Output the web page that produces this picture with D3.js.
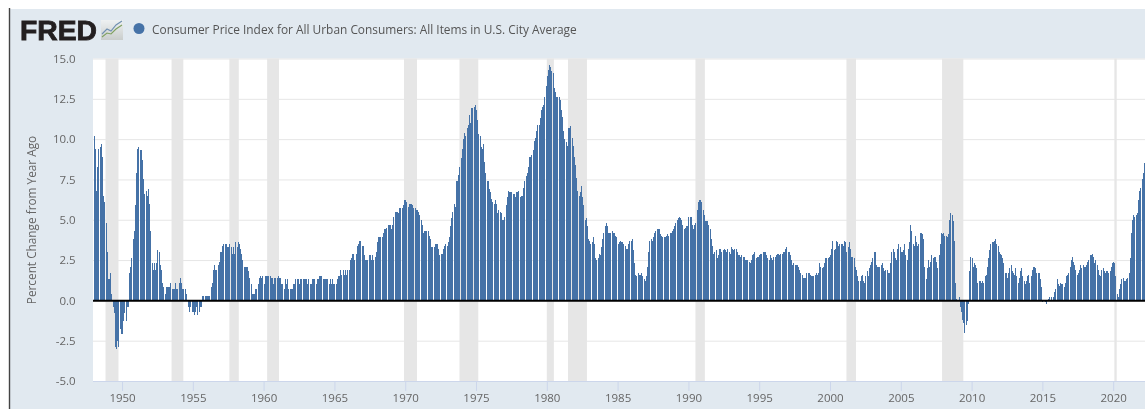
<!DOCTYPE html>
<html>
<head>
    <meta charset="utf-8">
    <title>FRED CPI</title>
    <script src="https://d3js.org/d3.v7.min.js"></script>
    <style>
        html, body { margin: 0; padding: 0; background: #fff; overflow: hidden; }
        svg { display: block; filter: blur(0.35px); }
        text { font-family: "Open Sans", sans-serif; }
        .tick-label text { font-size: 11.5px; fill: #666; }
        .chart-title { font-size: 11.9px; fill: #555; }
        .axis-label { font-size: 11.8px; fill: #666; }
        .logo { font-family: "Liberation Sans", Arial, sans-serif; font-size: 27px; font-weight: bold; fill: #231f20; stroke: #231f20; stroke-width: 0.8px; }
    </style>
</head>
<body>
    <svg id="chart"></svg>
    <script>
        const startYear = 1948;

        // percent change from year ago, one row per year, Jan to Dec
        const cpiChange = [
            10.2, 9.4, 6.8, 8.3, 9.4, 9.5, 9.7, 8.9, 6.5, 6.1, 4.8, 3.0,
            1.3, 1.3, 1.7, 0.4, -0.4, -0.8, -2.9, -3.0, -2.5, -2.9, -1.8, -2.1,
            -2.1, -1.3, -0.8, -1.3, -0.4, -0.4, 1.7, 2.1, 2.6, 3.8, 4.3, 5.9,
            7.9, 9.4, 9.5, 9.3, 9.3, 8.7, 7.5, 6.6, 6.8, 6.5, 6.9, 6.0,
            4.3, 2.3, 1.9, 2.3, 1.9, 2.3, 3.1, 3.0, 2.2, 1.9, 1.1, 0.8,
            0.4, 0.8, 0.8, 0.8, 0.8, 1.1, 0.7, 0.7, 0.7, 1.1, 0.7, 0.7,
            1.1, 1.4, 1.1, 0.7, 0.7, 0.7, 0.4, 0.0, -0.4, -0.7, -0.4, -0.7,
            -0.7, -0.9, -0.7, -0.4, -0.9, -0.7, -0.4, -0.4, 0.3, 0.3, 0.3, 0.3,
            0.3, 0.3, 0.3, 0.8, 1.1, 1.9, 2.2, 1.9, 1.9, 2.2, 2.4, 3.0,
            3.0, 3.4, 3.5, 3.5, 3.5, 3.3, 3.3, 3.5, 3.3, 2.9, 3.3, 2.9,
            3.6, 3.3, 3.6, 3.5, 3.2, 2.9, 2.5, 2.1, 2.1, 2.1, 2.1, 1.8,
            1.4, 1.0, 0.4, 0.4, 0.4, 0.7, 0.7, 1.0, 1.4, 1.5, 1.4, 1.5,
            1.0, 1.5, 1.5, 1.5, 1.5, 1.5, 1.4, 1.4, 1.0, 1.4, 1.4, 1.4,
            1.5, 1.4, 1.4, 1.0, 1.0, 0.7, 1.3, 1.0, 1.3, 0.7, 0.7, 0.7,
            0.7, 1.0, 1.0, 1.3, 1.3, 1.3, 1.0, 1.3, 1.3, 1.3, 1.3, 1.3,
            1.3, 1.0, 1.3, 1.0, 1.0, 1.3, 1.3, 1.3, 1.0, 1.3, 1.3, 1.5,
            1.5, 1.5, 1.3, 1.3, 1.3, 1.3, 1.3, 1.0, 1.3, 1.0, 1.3, 1.0,
            1.0, 1.0, 1.3, 1.5, 1.5, 1.9, 1.6, 1.9, 1.6, 1.9, 1.6, 1.9,
            1.9, 2.5, 2.6, 2.9, 2.9, 2.5, 2.9, 3.4, 3.5, 3.7, 3.7, 3.4,
            3.4, 2.8, 2.5, 2.5, 2.5, 2.8, 2.8, 2.5, 2.8, 2.5, 2.7, 3.0,
            3.6, 3.9, 3.9, 3.9, 3.9, 4.2, 4.4, 4.4, 4.5, 4.7, 4.7, 4.7,
            4.4, 4.7, 5.2, 5.5, 5.5, 5.5, 5.4, 5.7, 5.7, 5.7, 5.9, 6.2,
            6.2, 6.1, 5.8, 6.0, 6.0, 6.0, 5.9, 5.7, 5.7, 5.6, 5.6, 5.5,
            5.3, 5.0, 4.7, 4.2, 4.3, 4.3, 4.3, 4.3, 4.0, 3.8, 3.3, 3.3,
            3.3, 3.5, 3.5, 3.5, 3.2, 2.8, 2.9, 2.9, 3.2, 3.4, 3.5, 3.4,
            3.6, 3.9, 4.6, 5.1, 5.5, 6.0, 5.8, 7.4, 7.4, 7.8, 8.3, 8.8,
            9.4, 10.0, 10.4, 10.2, 10.7, 10.9, 11.5, 11.0, 11.9, 11.9, 12.0, 12.1,
            11.8, 11.2, 10.3, 10.2, 9.5, 9.4, 9.7, 8.6, 7.9, 7.4, 7.4, 6.9,
            6.7, 6.3, 6.1, 6.0, 6.2, 6.0, 5.4, 5.6, 5.5, 5.4, 5.0, 5.0,
            5.2, 5.9, 6.4, 6.8, 6.7, 6.7, 6.7, 6.6, 6.6, 6.4, 6.7, 6.7,
            6.8, 6.4, 6.5, 6.5, 7.0, 7.4, 7.7, 7.9, 8.3, 8.9, 8.9, 9.0,
            9.3, 9.9, 10.1, 10.5, 10.9, 10.9, 11.3, 11.8, 12.0, 12.1, 12.6, 13.3,
            13.9, 14.3, 14.6, 14.5, 14.2, 14.1, 13.2, 12.9, 12.6, 12.6, 12.6, 12.4,
            11.8, 11.4, 10.5, 10.0, 9.8, 9.6, 10.7, 10.7, 10.8, 10.1, 9.6, 8.9,
            8.4, 7.6, 6.8, 6.5, 6.7, 7.1, 6.4, 5.9, 5.0, 5.1, 4.6, 3.8,
            3.7, 3.5, 3.6, 3.9, 3.5, 2.6, 2.5, 2.6, 2.9, 2.8, 3.3, 3.8,
            4.2, 4.6, 4.8, 4.6, 4.2, 4.2, 4.2, 4.3, 4.2, 4.2, 4.0, 3.9,
            3.5, 3.6, 3.7, 3.6, 3.6, 3.5, 3.4, 3.2, 3.2, 3.5, 3.7, 3.7,
            3.8, 3.1, 2.3, 1.6, 1.5, 1.7, 1.6, 1.6, 1.7, 1.5, 1.3, 1.2,
            1.5, 2.1, 3.0, 3.7, 3.8, 3.7, 3.9, 4.2, 4.3, 4.4, 4.4, 4.4,
            4.1, 4.0, 3.9, 3.9, 3.9, 4.0, 4.1, 4.0, 4.2, 4.2, 4.3, 4.4,
            4.6, 4.8, 5.0, 5.1, 5.2, 5.1, 5.0, 4.7, 4.4, 4.5, 4.6, 4.6,
            5.2, 5.2, 5.2, 4.7, 4.4, 4.7, 4.8, 5.6, 6.1, 6.2, 6.2, 6.1,
            5.6, 5.3, 4.9, 4.9, 4.9, 4.7, 4.4, 3.8, 3.4, 2.9, 3.0, 3.1,
            2.6, 2.8, 3.2, 3.2, 3.0, 3.1, 3.2, 3.1, 3.0, 3.2, 3.0, 2.9,
            3.3, 3.2, 3.1, 3.2, 3.2, 3.0, 2.8, 2.8, 2.7, 2.8, 2.7, 2.7,
            2.5, 2.5, 2.5, 2.4, 2.3, 2.5, 2.8, 2.9, 3.0, 2.6, 2.7, 2.7,
            2.8, 2.9, 2.9, 3.0, 3.0, 3.0, 2.8, 2.6, 2.5, 2.8, 2.6, 2.5,
            2.7, 2.7, 2.8, 2.9, 2.9, 2.8, 2.9, 2.9, 3.0, 3.0, 3.2, 3.3,
            3.0, 3.0, 2.8, 2.5, 2.2, 2.3, 2.2, 2.2, 2.2, 2.1, 1.9, 1.7,
            1.6, 1.4, 1.4, 1.4, 1.7, 1.7, 1.7, 1.6, 1.5, 1.5, 1.5, 1.6,
            1.7, 1.6, 1.7, 2.3, 2.1, 2.0, 2.1, 2.3, 2.6, 2.6, 2.6, 2.7,
            2.8, 3.2, 3.7, 3.1, 3.2, 3.7, 3.6, 3.4, 3.5, 3.5, 3.5, 3.4,
            3.7, 3.6, 3.0, 3.3, 3.6, 3.2, 2.7, 2.7, 2.6, 2.1, 1.9, 1.5,
            1.2, 1.2, 1.5, 1.6, 1.2, 1.1, 1.5, 1.8, 1.5, 2.0, 2.2, 2.4,
            2.6, 3.0, 3.0, 2.2, 2.1, 2.1, 2.1, 2.2, 2.3, 2.0, 1.8, 1.9,
            1.9, 1.7, 1.7, 2.3, 3.0, 3.2, 3.0, 2.6, 2.5, 3.2, 3.5, 3.3,
            3.0, 3.0, 3.1, 3.5, 2.8, 2.5, 3.2, 3.6, 4.7, 4.3, 3.5, 3.4,
            4.0, 3.6, 3.4, 3.5, 4.2, 4.2, 4.1, 3.8, 2.1, 1.3, 2.0, 2.5,
            2.1, 2.4, 2.8, 2.6, 2.7, 2.7, 2.4, 2.0, 2.8, 3.5, 4.2, 4.1,
            4.2, 4.0, 4.0, 3.9, 4.1, 5.0, 5.4, 5.3, 4.9, 3.7, 1.1, 0.1,
            0.0, 0.2, -0.4, -0.7, -1.2, -1.4, -2.0, -1.5, -1.3, -0.2, 1.8, 2.7,
            2.6, 2.1, 2.3, 2.2, 2.0, 1.1, 1.2, 1.2, 1.1, 1.2, 1.1, 1.5,
            1.6, 2.1, 2.6, 3.1, 3.5, 3.6, 3.6, 3.7, 3.8, 3.5, 3.4, 3.0,
            2.9, 2.8, 2.6, 2.3, 1.7, 1.7, 1.4, 1.7, 2.0, 2.2, 1.8, 1.7,
            1.6, 2.0, 1.5, 1.1, 1.4, 1.8, 2.0, 1.5, 1.2, 1.0, 1.2, 1.5,
            1.6, 1.1, 1.5, 1.9, 2.1, 2.1, 2.0, 1.7, 1.7, 1.7, 1.3, 0.8,
            -0.1, 0.0, -0.1, -0.2, 0.0, 0.1, 0.2, 0.2, 0.0, 0.2, 0.5, 0.7,
            1.3, 1.0, 0.9, 1.1, 1.0, 1.0, 0.8, 1.1, 1.5, 1.6, 1.7, 2.1,
            2.5, 2.7, 2.4, 2.2, 1.9, 1.6, 1.7, 1.9, 2.2, 2.0, 2.2, 2.1,
            2.1, 2.2, 2.4, 2.5, 2.8, 2.8, 2.9, 2.7, 2.3, 2.5, 2.2, 1.9,
            1.6, 1.5, 1.9, 2.0, 1.8, 1.7, 1.8, 1.8, 1.7, 1.8, 2.1, 2.3,
            2.4, 2.3, 1.5, 0.4, 0.2, 0.7, 1.0, 1.3, 1.4, 1.2, 1.2, 1.3,
            1.4, 1.7, 2.6, 4.2, 5.0, 5.3, 5.2, 5.3, 5.4, 6.2, 6.8, 7.0,
            7.5, 7.9, 8.5
        ];

        const recessions = [
            ["1948-11-01", "1949-10-01"], ["1953-07-01", "1954-05-01"], ["1957-08-01", "1958-04-01"],
            ["1960-04-01", "1961-02-01"], ["1969-12-01", "1970-11-01"], ["1973-11-01", "1975-03-01"],
            ["1980-01-01", "1980-07-01"], ["1981-07-01", "1982-11-01"], ["1990-07-01", "1991-03-01"],
            ["2001-03-01", "2001-11-01"], ["2007-12-01", "2009-06-01"], ["2020-02-01", "2020-04-01"]
        ];

        const yTicks = [-5, -2.5, 0, 2.5, 5, 7.5, 10, 12.5, 15];
        const xTickYears = d3.range(1950, 2021, 5);
        const titleText = "Consumer Price Index for All Urban Consumers: All Items in U.S. City Average";

        const width = 1145, height = 409;
        const plot = { left: 93.7, right: 1145, top: 58.5, bottom: 381 };
        const barColor = "#4572a7";

        const parseDate = d3.utcParse("%Y-%m-%d");
        const data = cpiChange.map((v, i) => ({ date: new Date(Date.UTC(startYear, i, 1)), value: v }));

        const xScale = d3.scaleUtc()
            .domain([new Date(Date.UTC(1948, 0, 1)), new Date(Date.UTC(2022, 3, 1))])
            .range([plot.left, plot.right]);

        const yScale = d3.scaleLinear()
            .domain([-5, 15])
            .range([plot.bottom, plot.top]);

        const svg = d3.select("#chart")
            .attr("width", width)
            .attr("height", height);

        // page frame
        svg.append("rect").attr("x", 9).attr("y", 9).attr("width", width - 9).attr("height", height - 9).attr("fill", "#e1e9f0");
        svg.append("line").attr("x1", 9.5).attr("x2", 9.5).attr("y1", 8).attr("y2", height).attr("stroke", "#444").attr("stroke-width", 1.4);

        // plot area
        svg.append("rect")
            .attr("x", plot.left - 0.7).attr("y", plot.top)
            .attr("width", plot.right - plot.left + 0.7).attr("height", plot.bottom - plot.top)
            .attr("fill", "#fff");

        svg.append("g")
            .selectAll("rect")
            .data(recessions)
            .enter()
            .append("rect")
            .attr("x", d => xScale(parseDate(d[0])))
            .attr("y", plot.top)
            .attr("width", d => xScale(parseDate(d[1])) - xScale(parseDate(d[0])))
            .attr("height", plot.bottom - plot.top)
            .attr("fill", "#e6e6e6");

        // grid
        svg.append("g")
            .attr("transform", `translate(${plot.left - 0.7},0)`)
            .call(d3.axisLeft(yScale).tickValues(yTicks).tickSize(-(plot.right - plot.left + 0.7)).tickFormat(""))
            .call(g => g.select(".domain").remove())
            .selectAll("line")
            .attr("stroke", "#e6e6e6");

        // bars, snapped to whole pixels like the original so the gaps show
        svg.append("g")
            .selectAll("rect")
            .data(data)
            .enter()
            .append("rect")
            .attr("x", d => Math.round(xScale(d.date)))
            .attr("y", d => yScale(Math.max(d.value, 0)))
            .attr("width", 1)
            .attr("height", d => Math.abs(yScale(d.value) - yScale(0)))
            .attr("fill", barColor)
            .attr("shape-rendering", "crispEdges");

        // zero line
        svg.append("line")
            .attr("x1", plot.left - 0.7).attr("x2", plot.right)
            .attr("y1", yScale(0) + 0.3).attr("y2", yScale(0) + 0.3)
            .attr("stroke", "#000").attr("stroke-width", 2);

        // axes
        svg.append("g")
            .attr("class", "tick-label")
            .attr("transform", `translate(${plot.left - 15},0)`)
            .call(d3.axisLeft(yScale).tickValues(yTicks).tickSize(0).tickFormat(d => d3.format(".1f")(d).replace("\u2212", "-")))
            .call(g => g.select(".domain").remove());

        svg.append("g")
            .attr("class", "tick-label")
            .attr("transform", `translate(0,${plot.bottom})`)
            .call(d3.axisBottom(xScale)
                .tickValues(xTickYears.map(y => new Date(Date.UTC(y, 0, 1))))
                .tickSize(10).tickPadding(3).tickFormat(d3.utcFormat("%Y")))
            .call(g => g.select(".domain").attr("stroke", "#ccd6eb").attr("d", `M${plot.left - 0.7},0.5H${plot.right}`))
            .selectAll("line").attr("stroke", "#ccd6eb");

        svg.append("text")
            .attr("class", "axis-label")
            .attr("text-anchor", "middle")
            .attr("transform", "translate(36,220)rotate(-90)")
            .text("Percent Change from Year Ago");

        // header
        svg.append("text").attr("class", "logo")
            .attr("x", 20).attr("y", 39.5)
            .attr("textLength", 77).attr("lengthAdjust", "spacingAndGlyphs")
            .text("FRED");

        const iconFill = svg.append("defs").append("linearGradient")
            .attr("id", "iconFill").attr("x1", 0).attr("x2", 0).attr("y1", 0).attr("y2", 1);
        iconFill.append("stop").attr("offset", 0).attr("stop-color", "#eef1f2");
        iconFill.append("stop").attr("offset", 1).attr("stop-color", "#c9cdcc");

        const icon = svg.append("g").attr("transform", "translate(101,20)");
        icon.append("rect").attr("width", 22).attr("height", 20).attr("fill", "url(#iconFill)");
        icon.append("path").attr("d", "M1,14 L6,9 L10,11 L15,5 L21,1").attr("fill", "none").attr("stroke", "#6f8fb0").attr("stroke-width", 1.1);
        icon.append("path").attr("d", "M1,17 L6,13 L10,14 L15,9 L21,5").attr("fill", "none").attr("stroke", "#7fa05f").attr("stroke-width", 1.1);

        svg.append("circle").attr("cx", 139).attr("cy", 28.5).attr("r", 5.5).attr("fill", barColor);
        svg.append("text").attr("class", "chart-title").attr("x", 152).attr("y", 34).text(titleText);
    </script>
</body>
</html>
